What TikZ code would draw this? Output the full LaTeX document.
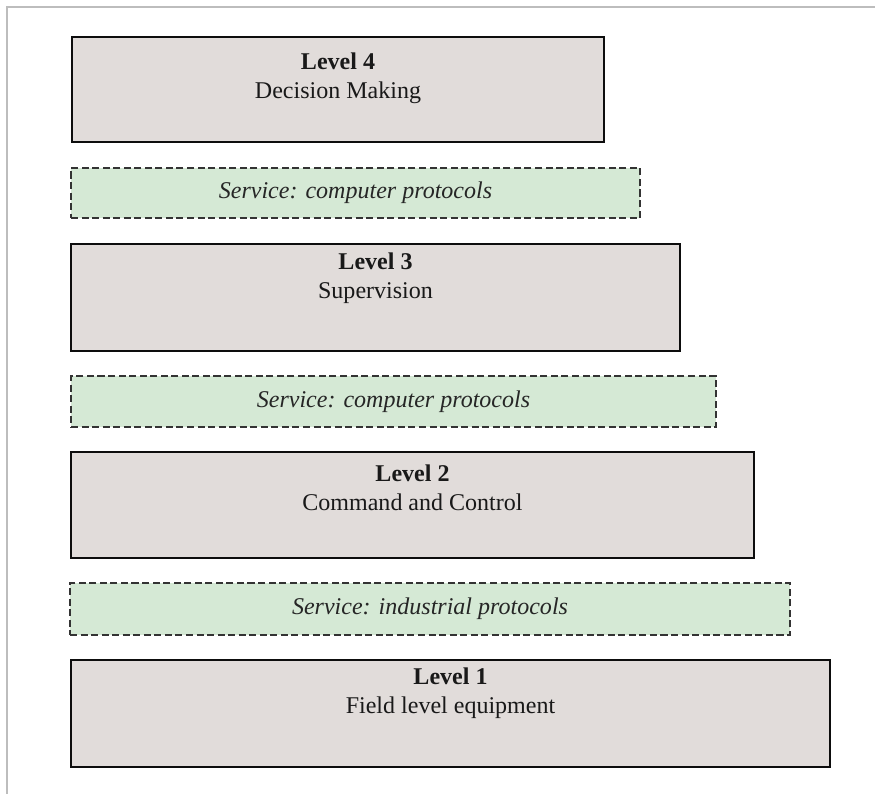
\documentclass[tikz,border=0pt]{standalone}
\usepackage{fontspec}
\setmainfont{Liberation Serif}
\definecolor{levelfill}{HTML}{E1DCDA}
\definecolor{servicefill}{HTML}{D5E9D5}
\definecolor{frameline}{HTML}{BDBDBD}
\begin{document}
\begin{tikzpicture}[
        x = 0.03cm,
        y = -0.03cm,
        level/.style 2 args = {draw=black!95, line width=2.4pt, fill=levelfill,
          minimum width=#1*0.03cm, minimum height=#2*0.03cm, inner sep=0pt},
        service/.style 2 args = {draw=black!80, line width=1.6pt,
          dash pattern=on 6pt off 3pt, fill=servicefill,
          minimum width=#1*0.03cm, minimum height=#2*0.03cm, inner sep=0pt,
          font=\fontsize{20.5}{24}\selectfont\itshape, text=black!85},
        leveltext/.style = {anchor=north, align=center, inner sep=0pt,
          font=\fontsize{20.5}{24}\selectfont, text=black!90}]
      \useasboundingbox (0,0) rectangle (875,794);
      \draw [frameline, line width=1.6pt] (7,794) -- (7,7) -- (875,7);

      \node [level={532}{105}] (l4) at (338,89.5) {};
      \node [leveltext] (l4text) at (338,53) {\textbf{Level 4}\\Decision Making};
      \node [service={569}{50}] (s43) at (355.5,193) {Service: computer protocols};

      \node [level={609}{107}] (l3) at (375.5,297.5) {};
      \node [leveltext] (l3text) at (375.5,253) {\textbf{Level 3}\\Supervision};
      \node [service={645}{51}] (s32) at (393.5,401.5) {Service: computer protocols};

      \node [level={683}{106}] (l2) at (412.5,505) {};
      \node [leveltext] (l2text) at (412.5,465) {\textbf{Level 2}\\Command and Control};
      \node [service={720}{52}] (s21) at (430,609) {Service: industrial protocols};

      \node [level={759}{107}] (l1) at (450.5,713.5) {};
      \node [leveltext] (l1text) at (450.5,668) {\textbf{Level 1}\\Field level equipment};
    \end{tikzpicture}
\end{document}
